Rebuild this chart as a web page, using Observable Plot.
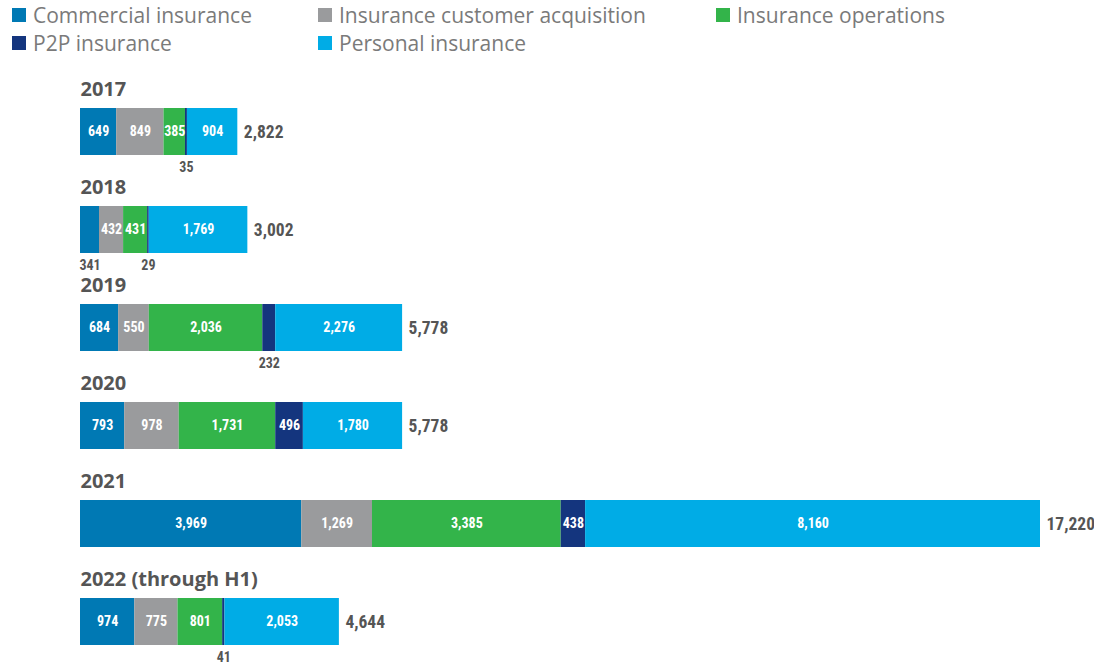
<!DOCTYPE html>
<html><head><meta charset="utf-8">
<script src="https://cdn.jsdelivr.net/npm/d3@7"></script>
<script src="https://cdn.jsdelivr.net/npm/@observablehq/plot@0.6"></script>
<style>
body{margin:0;background:#fff;font-family:"Open Sans",sans-serif;}
#legend{display:grid;grid-template-columns:306px 398px 300px;grid-auto-rows:28px;padding:1px 0 0 12px;height:60px;box-sizing:border-box;}
.item{display:flex;align-items:center;font-size:21px;line-height:28px;color:#7a7a7a;height:28px;white-space:nowrap;}
.sw{width:14px;height:14px;margin-right:7px;flex:none}
#chart svg{display:block}
#chart svg g[font-family*="Narrow"]{font-stretch:condensed}
</style></head><body>
<div id="legend"></div><div id="chart"></div>
<script>
const years = ["2017","2018","2019","2020","2021","2022 (through H1)"];
const categories = ["Commercial insurance","Insurance customer acquisition","Insurance operations","P2P insurance","Personal insurance"];
const commercial = [649,341,684,793,3969,974];
const acquisition = [849,432,550,978,1269,775];
const operations = [385,431,2036,1731,3385,801];
const p2p = [35,29,232,496,438,41];
const personal = [904,1769,2276,1780,8160,2053];
const totals = [2822,3002,5778,5778,17220,4644];
const colors = ["#0079b4","#9a9b9d","#33b44a","#14357e","#00ace6"];

const series = [commercial, acquisition, operations, p2p, personal];
const rows = [];
years.forEach((year, i) => categories.forEach((category, j) => rows.push({year, category, value: series[j][i]})));
const totalRows = years.map((year, i) => ({year, total: totals[i], sum: d3.sum(series, s => s[i])}));

const fmt = d3.format(",");
const small = d => d.value < 360;
const narrow = '"Liberation Sans Narrow","Roboto Condensed","DejaVu Sans Condensed",Roboto,sans-serif';

const legend = document.getElementById("legend");
categories.forEach((c, j) => {
  const it = document.createElement("div");
  it.className = "item";
  it.innerHTML = `<span class="sw" style="background:${colors[j]}"></span><span>${c}</span>`;
  legend.appendChild(it);
});

const stack = extra => Plot.stackX({x: "value", y: "year", z: "category", order: categories, ...extra});

const plot = Plot.plot({
  width: 1094, height: 609,
  marginLeft: 80, marginRight: 54, marginTop: 47, marginBottom: 23.5,
  x: {domain: [0, 17221], axis: null},
  y: {domain: years, axis: null, paddingInner: 0.522, paddingOuter: 0},
  color: {domain: categories, range: colors},
  opacity: {domain: [0, 1], range: [0, 1]},
  style: {background: "white"},
  marks: [
    Plot.barX(rows, stack({fill: "category"})),
    Plot.ruleX(rows, stack({stroke: "#666", strokeOpacity: d => small(d) ? 1 : 0, insetTop: 42, dy: 5})),
    Plot.text(rows, stack({
      text: d => small(d) ? null : fmt(d.value),
      fill: "white", fontSize: 14, fontWeight: "bold", fontFamily: narrow
    })),
    Plot.text(rows, stack({
      text: d => small(d) ? fmt(d.value) : null,
      fill: "#555", fontSize: 14, fontWeight: "bold", fontFamily: narrow, dy: 36
    })),
    Plot.text(totalRows, {
      x: "sum", y: "year", text: d => fmt(d.total), textAnchor: "start", dx: 6,
      fill: "#555", fontSize: 17.5, fontWeight: "bold", fontFamily: narrow
    }),
    Plot.text(totalRows, {
      x: 0, y: "year", text: "year", textAnchor: "start", dy: -42,
      fill: "#555", fontSize: 20, fontWeight: "bold", fontFamily: '"Open Sans",sans-serif'
    })
  ]
});
document.getElementById("chart").appendChild(plot);
</script>
</body></html>
